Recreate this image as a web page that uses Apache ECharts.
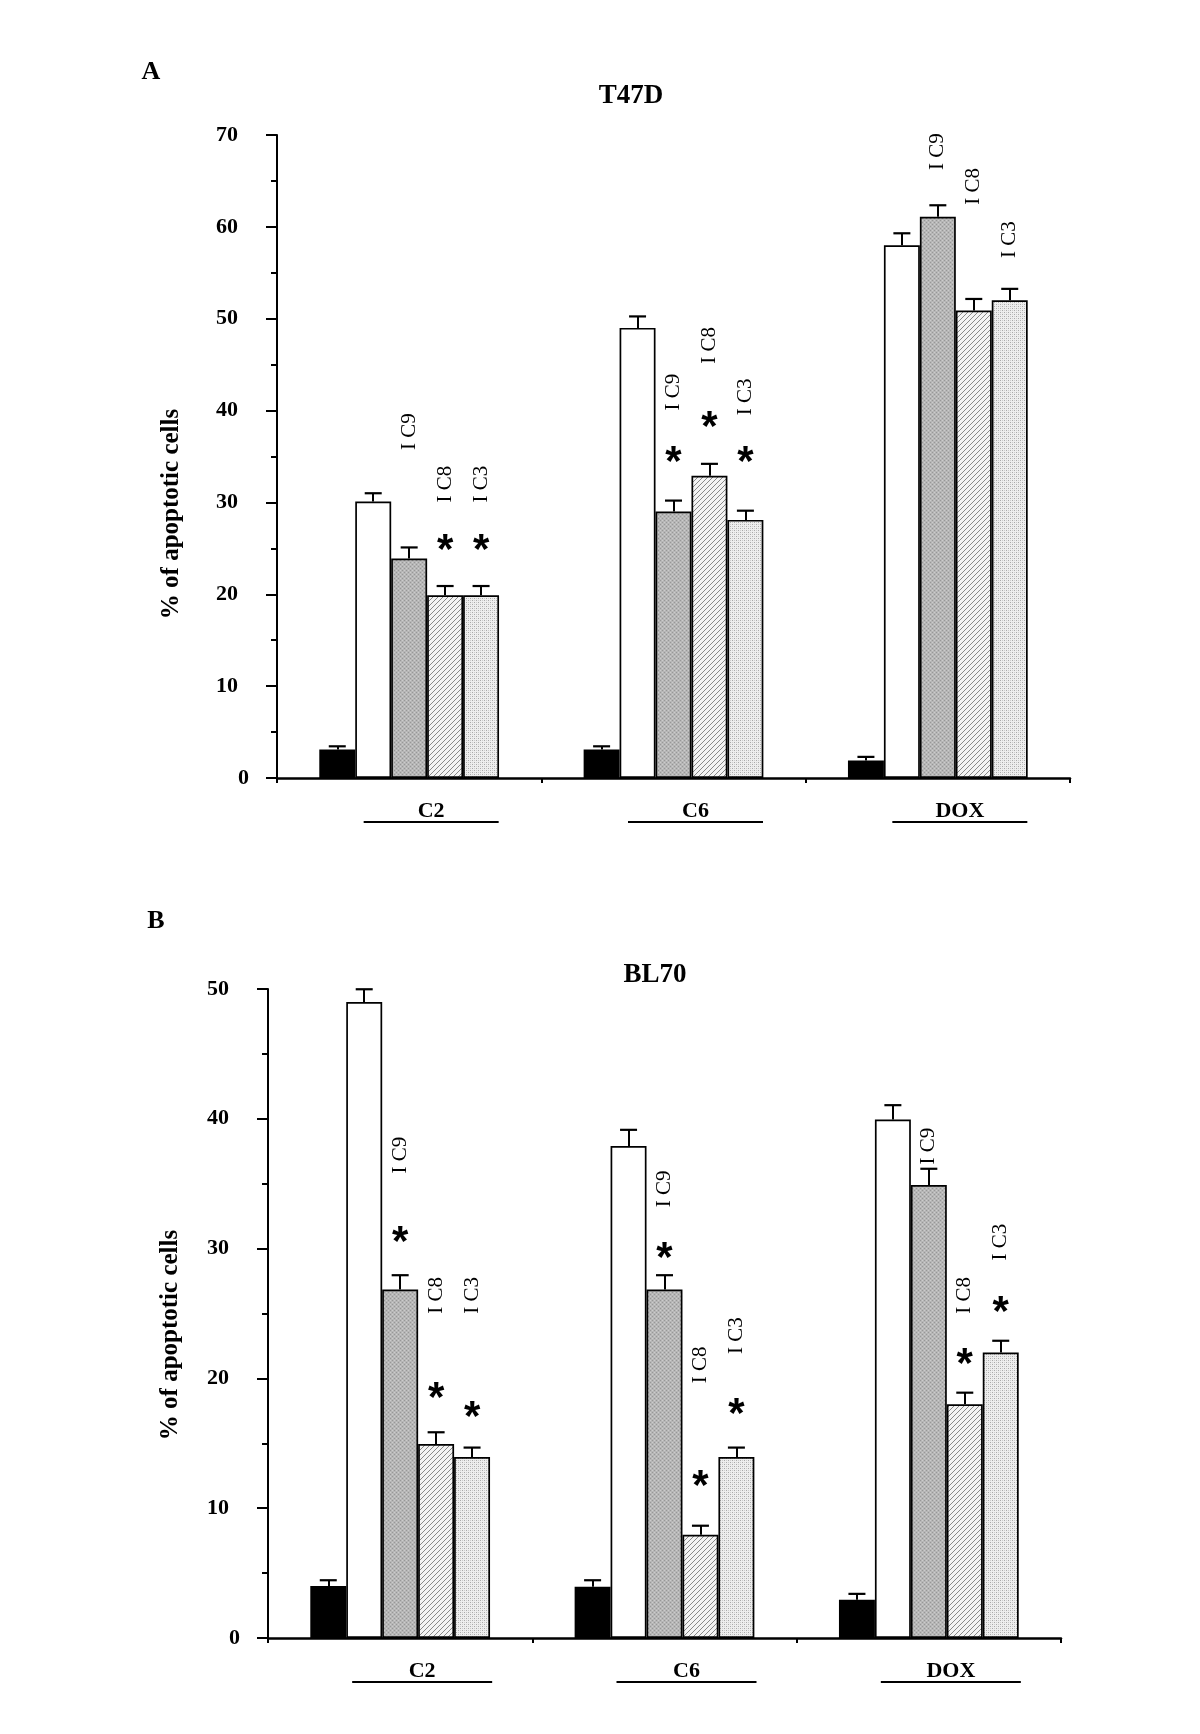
<!DOCTYPE html>
<html>
<head>
<meta charset="utf-8">
<script src="https://cdn.jsdelivr.net/npm/echarts@6/dist/echarts.min.js"></script>
<style>
html,body{margin:0;padding:0;background:#fff;}
#main{width:1200px;height:1734px;}
</style>
</head>
<body>
<div id="main"></div>
<script>
// ---------------- data ----------------
const categories = ['C2', 'C6', 'DOX'];
const seriesNames = ['Control', 'Treated', 'I C9', 'I C8', 'I C3'];
const yTicksA = { min: 0, max: 70, interval: 10 };
const yTicksB = { min: 0, max: 50, interval: 10 };

// Panel A : T47D  (mean, SD)
const aControl = [3.1, 3.1, 1.9];
const aControlSd = [0.35, 0.35, 0.4];
const aTreated = [30.1, 49.0, 58.0];
const aTreatedSd = [0.9, 1.25, 1.3];
const aIC9 = [23.9, 29.0, 61.1];
const aIC9Sd = [1.2, 1.2, 1.25];
const aIC8 = [19.9, 32.9, 50.9];
const aIC8Sd = [1.0, 1.3, 1.25];
const aIC3 = [19.9, 28.1, 52.0];
const aIC3Sd = [1.0, 1.0, 1.25];
// annotation heights (data units) for the "I Cx" labels and the asterisks
const aIC9Label = [37.7, 42.0, 68.2];
const aIC8Label = [32.0, 47.1, 64.4];
const aIC3Label = [32.0, 41.5, 58.6];
const aIC9Star = [null, 35.1, null];
const aIC8Star = [25.5, 38.9, null];
const aIC3Star = [25.5, 35.1, null];

// Panel B : BL70
const bControl = [4.0, 3.95, 2.95];
const bControlSd = [0.45, 0.5, 0.45];
const bTreated = [49.0, 37.9, 39.95];
const bTreatedSd = [0.98, 1.25, 1.1];
const bIC9 = [26.85, 26.85, 34.9];
const bIC9Sd = [1.1, 1.1, 1.25];
const bIC8 = [14.95, 7.95, 18.0];
const bIC8Sd = [0.9, 0.7, 0.9];
const bIC3 = [13.95, 13.95, 22.0];
const bIC3Sd = [0.72, 0.72, 0.9];
const bIC9Label = [37.2, 34.6, 37.9];
const bIC8Label = [26.4, 21.05, 26.4];
const bIC3Label = [26.4, 23.3, 30.5];
const bIC9Star = [31.0, 29.8, null];
const bIC8Star = [19.0, 12.2, 21.6];
const bIC3Star = [17.5, 17.8, 25.65];

// ---------------- styles ----------------
const SERIF = '"Liberation Serif", "Times New Roman", serif';
const SANS = '"Liberation Sans", Arial, sans-serif';

function greyPattern() {
  const c = document.createElement('canvas'); c.width = 4; c.height = 4;
  const g = c.getContext('2d');
  g.fillStyle = '#b6b6b6'; g.fillRect(0, 0, 4, 4);
  g.fillStyle = '#979797'; g.fillRect(0, 0, 1, 1); g.fillRect(2, 2, 1, 1);
  g.fillStyle = '#cccccc'; g.fillRect(2, 0, 1, 1); g.fillRect(0, 2, 1, 1);
  return c;
}
function hatchPattern() {
  const s = 5;
  const c = document.createElement('canvas'); c.width = s; c.height = s;
  const g = c.getContext('2d');
  g.fillStyle = '#f3f3f3'; g.fillRect(0, 0, s, s);
  g.strokeStyle = '#888888'; g.lineWidth = 1;
  g.beginPath();
  g.moveTo(0, s); g.lineTo(s, 0);
  g.moveTo(-1, 1); g.lineTo(1, -1);
  g.moveTo(s - 1, s + 1); g.lineTo(s + 1, s - 1);
  g.stroke();
  return c;
}
function dotPattern() {
  const c = document.createElement('canvas'); c.width = 4; c.height = 4;
  const g = c.getContext('2d');
  g.fillStyle = '#eeeeee'; g.fillRect(0, 0, 4, 4);
  g.fillStyle = '#a9a9a9'; g.fillRect(0, 0, 1, 1); g.fillRect(2, 2, 1, 1);
  g.fillStyle = '#cdcdcd'; g.fillRect(2, 0, 1, 1); g.fillRect(0, 2, 1, 1);
  return c;
}
const fills = [
  '#000000',
  '#ffffff',
  { image: greyPattern(), repeat: 'repeat' },
  { image: hatchPattern(), repeat: 'repeat' },
  { image: dotPattern(), repeat: 'repeat' }
];

// ---------------- builders ----------------
function markPoints(vals, sds, labText, labY, starY) {
  const items = [];
  vals.forEach((v, i) => {
    items.push({
      coord: [i, v + sds[i]], symbol: 'rect', symbolSize: [17, 2.2],
      itemStyle: { color: '#000' }, label: { show: false }
    });
  });
  if (labY) labY.forEach((y, i) => {
    if (y == null) return;
    items.push({
      coord: [i, y], symbol: 'rect', symbolSize: 1,
      itemStyle: { color: 'rgba(0,0,0,0)' },
      label: { show: true, position: 'inside', rotate: 90, formatter: labText,
        fontFamily: SERIF, fontSize: 21, fontWeight: 'normal', color: '#000' }
    });
  });
  if (starY) starY.forEach((y, i) => {
    if (y == null) return;
    items.push({
      coord: [i, y], symbol: 'rect', symbolSize: 1,
      itemStyle: { color: 'rgba(0,0,0,0)' },
      label: { show: true, position: 'inside', formatter: '*', offset: [0, 8],
        fontFamily: SANS, fontSize: 42, fontWeight: 'bold', color: '#000' }
    });
  });
  return items;
}
function errLines(vals, sds) {
  return vals.map((v, i) => [{ coord: [i, v] }, { coord: [i, v + sds[i]] }]);
}
function barSeries(idx, k, vals, sds, labY, starY) {
  return {
    type: 'bar', name: seriesNames[k], xAxisIndex: idx, yAxisIndex: idx,
    data: vals, barGap: '0%', barCategoryGap: '32%',
    itemStyle: { color: fills[k], borderColor: '#000', borderWidth: 1.7 },
    emphasis: { disabled: true },
    markLine: {
      silent: true, symbol: ['none', 'none'], animation: false,
      lineStyle: { color: '#000', width: 2, type: 'solid' },
      label: { show: false }, emphasis: { disabled: true },
      data: errLines(vals, sds)
    },
    markPoint: {
      silent: true, animation: false,
      data: markPoints(vals, sds, seriesNames[k], labY, starY)
    }
  };
}
function yAxisCfg(idx, t) {
  return {
    type: 'value', gridIndex: idx, min: t.min, max: t.max, interval: t.interval,
    axisLine: { show: true, lineStyle: { color: '#000', width: 2 } },
    axisTick: { show: true, inside: false, length: 11, lineStyle: { color: '#000', width: 2 } },
    minorTick: { show: true, splitNumber: 2, length: 6, lineStyle: { color: '#000', width: 2 } },
    splitLine: { show: false }, minorSplitLine: { show: false },
    axisLabel: {
      margin: 28, color: '#000',
      formatter: v => (v === 0 ? '{z|0}' : '{n|' + v + '}'),
      rich: {
        n: { fontFamily: SERIF, fontWeight: 'bold', fontSize: 22, color: '#000', padding: [0, 11, 0, 0] },
        z: { fontFamily: SERIF, fontWeight: 'bold', fontSize: 22, color: '#000' }
      }
    }
  };
}
function xAxisCfg(idx, ulWidth) {
  return {
    type: 'category', gridIndex: idx, data: categories, boundaryGap: true,
    axisLine: { show: true, lineStyle: { color: '#000', width: 2.5 } },
    axisTick: { show: true, length: 5, lineStyle: { color: '#000', width: 2 } },
    axisLabel: {
      margin: 23, padding: [0, 0, 0, 44], color: '#000',
      formatter: v => '{t|' + v + '}\n{u|}',
      rich: {
        t: { fontFamily: SERIF, fontWeight: 'bold', fontSize: 22, lineHeight: 20, color: '#000' },
        u: { width: ulWidth, height: 2, backgroundColor: '#000' }
      }
    }
  };
}

const series = [
  barSeries(0, 0, aControl, aControlSd),
  barSeries(0, 1, aTreated, aTreatedSd),
  barSeries(0, 2, aIC9, aIC9Sd, aIC9Label, aIC9Star),
  barSeries(0, 3, aIC8, aIC8Sd, aIC8Label, aIC8Star),
  barSeries(0, 4, aIC3, aIC3Sd, aIC3Label, aIC3Star),
  barSeries(1, 0, bControl, bControlSd),
  barSeries(1, 1, bTreated, bTreatedSd),
  barSeries(1, 2, bIC9, bIC9Sd, bIC9Label, bIC9Star),
  barSeries(1, 3, bIC8, bIC8Sd, bIC8Label, bIC8Star),
  barSeries(1, 4, bIC3, bIC3Sd, bIC3Label, bIC3Star)
];

function txt(x, y, text, font, rot) {
  return {
    type: 'text', x: x, y: y, rotation: rot || 0, silent: true,
    style: { text: text, font: font, fill: '#000', textAlign: 'center', textVerticalAlign: 'middle' }
  };
}

const option = {
  animation: false,
  backgroundColor: '#ffffff',
  grid: [
    { left: 277, top: 135, width: 793, height: 643, outerBoundsMode: 'none', containLabel: false },
    { left: 268, top: 989, width: 793, height: 649, outerBoundsMode: 'none', containLabel: false }
  ],
  xAxis: [xAxisCfg(0, 135), xAxisCfg(1, 140)],
  yAxis: [yAxisCfg(0, yTicksA), yAxisCfg(1, yTicksB)],
  series: series,
  graphic: [
    txt(151, 72, 'A', 'bold 26px ' + SERIF),
    txt(156, 921, 'B', 'bold 26px ' + SERIF),
    txt(631, 96, 'T47D', 'bold 27px ' + SERIF),
    txt(655, 975, 'BL70', 'bold 27px ' + SERIF),
    txt(172, 514, '% of apoptotic cells', 'bold 25px ' + SERIF, Math.PI / 2),
    txt(171, 1335, '% of apoptotic cells', 'bold 25px ' + SERIF, Math.PI / 2)
  ]
};

const chart = echarts.init(document.getElementById('main'), null, { renderer: 'canvas' });
chart.setOption(option);
</script>
</body>
</html>
